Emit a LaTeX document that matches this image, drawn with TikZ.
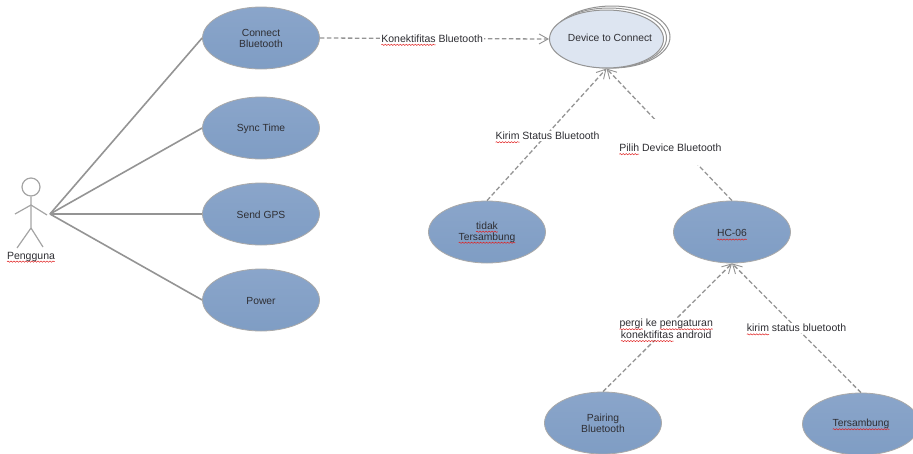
\documentclass[tikz,border=0pt]{standalone}
\usepackage{fontspec}
\setmainfont{Liberation Sans}
\usetikzlibrary{shapes.geometric,arrows.meta,decorations.pathmorphing}
\definecolor{lineg}{HTML}{949494}
\definecolor{txt}{HTML}{2E2E33}
\definecolor{squig}{HTML}{E02020}
\newcommand\sq[1]{\begingroup\setbox0\hbox{#1}\leavevmode\rlap{\tikz[overlay]\draw[-,solid,draw=squig,line width=.5pt,decorate,decoration={snake,amplitude=.6pt,segment length=3pt}] (0pt,-2.6pt)--(\wd0,-2.6pt);}\box0\endgroup}
\definecolor{uctop}{HTML}{8AA5CA}
\definecolor{ucbot}{HTML}{7F9DC4}
\definecolor{devfill}{HTML}{DDE5F1}
\tikzset{
  uc/.style={ellipse,minimum width=117pt,minimum height=62pt,inner sep=0pt,draw=lineg!80,line width=.8pt,top color=uctop,bottom color=ucbot,align=center,text=txt,font=\fontsize{10.3}{11}\selectfont},
  ucone/.style={uc,text height=10pt},
  dev/.style={ellipse,minimum width=114pt,minimum height=58pt,inner sep=0pt,draw=lineg,line width=1pt,fill=devfill,text=txt,font=\fontsize{10.3}{11}\selectfont},
  devback/.style={ellipse,draw=lineg,line width=1pt,fill=white},
  dep/.style={draw=lineg,line width=1.3pt,dash pattern=on 4.5pt off 2.5pt,-{Straight Barb[length=9pt,width=10pt,line width=.9pt]}},
  assoc/.style={draw=lineg,line width=1.6pt},
  lbl/.style={fill=white,inner sep=1.5pt,align=center,text=txt,font=\fontsize{10.5}{11.8}\selectfont},
  actorline/.style={draw=lineg!85,line width=1.2pt}
}
\begin{document}
\begin{tikzpicture}[x=1pt,y=-1pt]
\useasboundingbox (0,0) rectangle (913,453);
\node[uc] (cb) at (261,38) {Connect\\Bluetooth};
\node[ucone] (st) at (261,128) {Sync Time};
\node[ucone] (gps) at (261,214) {Send GPS};
\node[ucone] (pw) at (261,300) {Power};
\node[devback,minimum width=116pt,minimum height=62pt] (d2) at (612,37) {};
\node[devback,minimum width=115pt,minimum height=60pt] (d1) at (609,38) {};
\node[dev] (dv) at (606.5,39) {\raisebox{2pt}{\makebox[0pt]{\hspace*{7pt}Device to Connect}}};
\node[uc] (ts) at (487,232) {\sq{tidak}\\\sq{Tersambung}};
\node[ucone] (hc) at (732,232) {\sq{HC-06}};
\node[uc] (pb) at (603,423) {Pairing\\Bluetooth};
\node[uc] (tb) at (861,424) {\sq{Tersambung}};
% actor
\node[circle,minimum size=18pt,inner sep=0pt,actorline] (head) at (31,187) {};
\coordinate (hip) at (31,228);
\coordinate (neck) at (31,205);
\coordinate (handl) at (15,214);
\coordinate (handr) at (47,215);
\coordinate (footl) at (17,248);
\coordinate (footr) at (43,247);
\coordinate (act) at (50,214);
\draw[actorline] (head.south) -- (hip) -- (footl);
\draw[actorline] (hip) -- (footr);
\draw[actorline] (handl) -- (neck) -- (handr);
\node[text=txt,font=\fontsize{10.5}{11}\selectfont] (name) at (31,256.5) {\sq{Pengguna}};
% associations
\draw[assoc] (act) -- (cb.west);
\draw[assoc] (act) -- (st.west);
\draw[assoc] (act) -- (gps.west);
\draw[assoc] (act) -- (pw.west);
% dependencies
\draw[dep] (cb.east) -- node[lbl,pos=.49] {\sq{Konektifitas} Bluetooth} (dv.west);
\draw[dep] (ts.north) -- node[lbl,pos=.49,xshift=2pt] {\sq{Kirim} Status Bluetooth} (dv.south);
\draw[dep] (hc.north) -- node[lbl,pos=.447,minimum height=46pt,xshift=-5.5pt] {\raisebox{-10pt}[0pt][0pt]{\sq{Pilih} Device Bluetooth}} (dv.south);
\draw[dep] (pb.north) -- node[lbl,pos=.49,xshift=0pt] {\sq{pergi} ke \sq{pengaturan}\\\sq{konektifitas} android} (hc.south);
\draw[dep] (tb.north) -- node[lbl,pos=.5] {\sq{kirim} status bluetooth} (hc.south);
\end{tikzpicture}
\end{document}
